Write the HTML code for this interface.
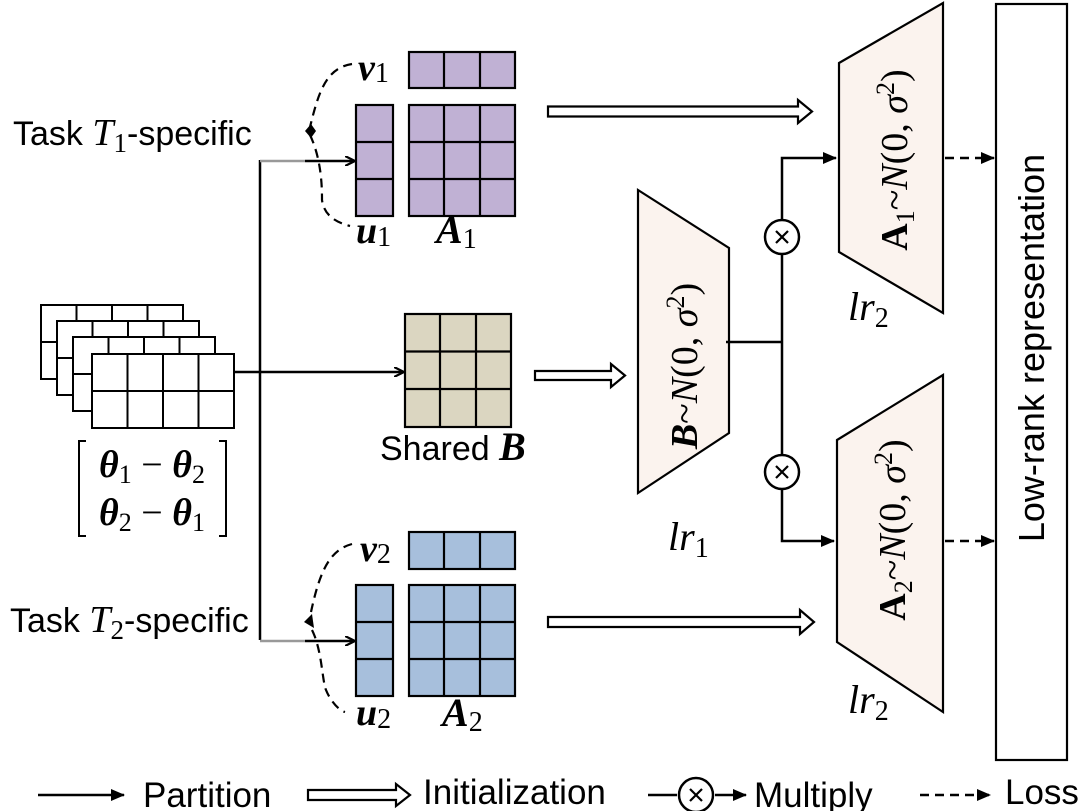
<!DOCTYPE html>
<html><head><meta charset="utf-8"><style>
html,body{margin:0;padding:0;background:#fff;}
svg{display:block;}
.s{font-family:"Liberation Sans",sans-serif;}
.m{font-family:"Liberation Serif","DejaVu Serif",serif;}
</style></head><body>
<svg width="1079" height="811" viewBox="0 0 1079 811" xmlns="http://www.w3.org/2000/svg">
<defs>
<marker id="ar" markerWidth="10" markerHeight="10" refX="9" refY="5" orient="auto" markerUnits="userSpaceOnUse"><path d="M0,0 L10,5 L0,10" fill="none" stroke="#000" stroke-width="2.2"/></marker>
<marker id="tri" markerWidth="14" markerHeight="12" refX="13" refY="6" orient="auto" markerUnits="userSpaceOnUse"><path d="M0,0 L14,6 L0,12 Z" fill="#000"/></marker>
</defs>
<g stroke="#000" stroke-width="2.5" fill="none">
<line x1="260" y1="160" x2="260" y2="640"/>
<line x1="260" y1="161" x2="305" y2="161" stroke="#999"/>
<line x1="305" y1="161" x2="354" y2="161" marker-end="url(#ar)"/>
<line x1="260" y1="641" x2="305" y2="641" stroke="#999"/>
<line x1="305" y1="641" x2="354" y2="641" marker-end="url(#ar)"/>
<line x1="234" y1="372" x2="403" y2="372" marker-end="url(#ar)"/>
</g>
<g stroke="#000" stroke-width="2" fill="#fff">
<g transform="translate(41,305)"><rect width="142" height="74"/><path d="M35.5,0V74M71,0V74M106.5,0V74M0,37H142"/></g>
<g transform="translate(57,321)"><rect width="142" height="74"/><path d="M35.5,0V74M71,0V74M106.5,0V74M0,37H142"/></g>
<g transform="translate(73,337)"><rect width="142" height="74"/><path d="M35.5,0V74M71,0V74M106.5,0V74M0,37H142"/></g>
<g transform="translate(92,354)"><rect width="142" height="74"/><path d="M35.5,0V74M71,0V74M106.5,0V74M0,37H142"/></g>
</g>
<path d="M86,441 H79 V536 H86 M219,441 H226 V536 H219" stroke="#000" stroke-width="2" fill="none"/>
<text x="152" y="477" class="m" font-size="38" text-anchor="middle"><tspan font-weight="bold" font-style="italic">θ</tspan><tspan font-size="26" dy="6">1</tspan><tspan dy="-6"> − </tspan><tspan font-weight="bold" font-style="italic">θ</tspan><tspan font-size="26" dy="6">2</tspan></text>
<text x="152" y="525" class="m" font-size="38" text-anchor="middle"><tspan font-weight="bold" font-style="italic">θ</tspan><tspan font-size="26" dy="6">2</tspan><tspan dy="-6"> − </tspan><tspan font-weight="bold" font-style="italic">θ</tspan><tspan font-size="26" dy="6">1</tspan></text>
<g stroke="#000" stroke-width="2.2" fill="#c0b1d4">
<rect x="409" y="52" width="106" height="36"/><path d="M444,52V88M480,52V88" fill="none"/>
<rect x="356" y="105" width="37" height="111"/><path d="M356,142H393M356,179H393" fill="none"/>
<rect x="409" y="105" width="106" height="111"/><path d="M444,105V216M480,105V216M409,142H515M409,179H515" fill="none"/>
</g>
<g stroke="#000" stroke-width="2.2" fill="#a7bfdc">
<rect x="409" y="532" width="106" height="37"/><path d="M444,532V569M480,532V569" fill="none"/>
<rect x="356" y="585" width="37" height="111"/><path d="M356,622H393M356,659H393" fill="none"/>
<rect x="409" y="585" width="106" height="111"/><path d="M444,585V696M480,585V696M409,622H515M409,659H515" fill="none"/>
</g>
<g stroke="#000" stroke-width="2.2" fill="#dbd6c1">
<rect x="405" y="314" width="106" height="113"/><path d="M440,314V427M476,314V427M405,351.5H511M405,389H511" fill="none"/>
</g>
<text x="380" y="460" class="s" font-size="34">Shared <tspan class="m" font-weight="bold" font-style="italic" font-size="40">B</tspan></text>
<g stroke="#000" stroke-width="2.2" fill="none" stroke-dasharray="9,6">
<path d="M352,64 C325,68 318,95 310,127"/>
<path d="M310,135 C322,160 322,190 322,200 C324,215 335,222 350,226"/>
<path d="M352,544 C330,550 320,570 311,612"/>
<path d="M312,630 C322,650 322,680 326,690 C330,700 338,710 345,712"/>
</g>
<path d="M305,131 L311,124 L316,131 L311,138 Z" fill="#000"/>
<path d="M304,622 L312,614 L314,628 Z" fill="#000"/>
<text x="358" y="80" class="m" font-size="38" font-weight="bold" font-style="italic">v<tspan font-size="28" font-weight="normal" font-style="normal" dy="2">1</tspan></text>
<text x="356" y="243" class="m" font-size="38" font-weight="bold" font-style="italic">u<tspan font-size="28" font-weight="normal" font-style="normal" dy="3">1</tspan></text>
<text x="436" y="243" class="m" font-size="40" font-weight="bold" font-style="italic">A<tspan font-size="28" font-weight="normal" font-style="normal" dy="5">1</tspan></text>
<text x="360" y="561" class="m" font-size="38" font-weight="bold" font-style="italic">v<tspan font-size="28" font-weight="normal" font-style="normal" dy="2">2</tspan></text>
<text x="356" y="725" class="m" font-size="38" font-weight="bold" font-style="italic">u<tspan font-size="28" font-weight="normal" font-style="normal" dy="3">2</tspan></text>
<text x="442" y="726" class="m" font-size="40" font-weight="bold" font-style="italic">A<tspan font-size="28" font-weight="normal" font-style="normal" dy="5">2</tspan></text>
<text x="13" y="145" class="s" font-size="34">Task <tspan class="m" font-style="italic" font-size="38">T</tspan><tspan class="m" font-size="27" dy="7">1</tspan><tspan dy="-7">-specific</tspan></text>
<text x="10" y="632" class="s" font-size="34">Task <tspan class="m" font-style="italic" font-size="38">T</tspan><tspan class="m" font-size="27" dy="7">2</tspan><tspan dy="-7">-specific</tspan></text>
<g stroke="#000" stroke-width="2.2" fill="#fff">
<path d="M548,106.5 H798 V100 L812,111.5 L798,123 V116.5 H548 Z"/>
<path d="M548,617 H800 V610 L814,622 L800,634 V627 H548 Z"/>
<path d="M535,371 H611 V364 L625,375.5 L611,387 V380 H535 Z"/>
<path d="M308,790 H396 V784 L410,795 L396,806 V800 H308 Z"/>
</g>
<g stroke="#000" stroke-width="2.2" fill="#fbf3ee">
<path d="M638,190 L729,248 L729,433 L638,493 Z"/>
<path d="M839,63 L943,3 L943,313 L839,252 Z"/>
<path d="M837,440 L943,375 L943,712 L837,642 Z"/>
</g>
<text transform="translate(697,366) rotate(-90)" class="m" font-size="38" text-anchor="middle"><tspan font-weight="bold" font-style="italic">B</tspan>~<tspan font-style="italic">N</tspan>(0, <tspan font-style="italic">σ</tspan><tspan font-size="26" dy="-13">2</tspan><tspan dy="13">)</tspan></text>
<text transform="translate(907,160) rotate(-90)" class="m" font-size="38" text-anchor="middle"><tspan font-weight="bold">A</tspan><tspan font-size="26" dy="7">1</tspan><tspan dy="-7">~</tspan><tspan font-style="italic">N</tspan>(0, <tspan font-style="italic">σ</tspan><tspan font-size="26" dy="-13">2</tspan><tspan dy="13">)</tspan></text>
<text transform="translate(905,530) rotate(-90)" class="m" font-size="38" text-anchor="middle"><tspan font-weight="bold">A</tspan><tspan font-size="26" dy="7">2</tspan><tspan dy="-7">~</tspan><tspan font-style="italic">N</tspan>(0, <tspan font-style="italic">σ</tspan><tspan font-size="26" dy="-13">2</tspan><tspan dy="13">)</tspan></text>
<text x="668" y="550" class="m" font-size="40" font-style="italic">lr<tspan font-size="28" font-style="normal" dy="7">1</tspan></text>
<text x="848" y="320" class="m" font-size="40" font-style="italic">lr<tspan font-size="28" font-style="normal" dy="7">2</tspan></text>
<text x="848" y="713" class="m" font-size="40" font-style="italic">lr<tspan font-size="28" font-style="normal" dy="7">2</tspan></text>
<g stroke="#000" stroke-width="2.5" fill="none">
<path d="M726,342 H782"/>
<path d="M782,342 V254 M782,220 V158 H836" marker-end="url(#tri)"/>
<path d="M782,342 V455 M782,489 V541 H834" marker-end="url(#tri)"/>
<circle cx="782" cy="237" r="17"/>
<circle cx="782" cy="472" r="17"/>
<path d="M776,231 L788,243 M788,231 L776,243 M776,466 L788,478 M788,466 L776,478" stroke-width="2.2"/>
</g>
<g stroke="#000" stroke-width="2.5" fill="none" stroke-dasharray="9,6">
<line x1="945" y1="158" x2="994" y2="158" marker-end="url(#tri)"/>
<line x1="945" y1="541" x2="994" y2="541" marker-end="url(#tri)"/>
</g>
<rect x="996" y="4" width="71" height="756" fill="#fff" stroke="#000" stroke-width="2.2"/>
<text transform="translate(1044,348) rotate(-90)" class="s" font-size="36" text-anchor="middle">Low-rank representation</text>
<g stroke="#000" stroke-width="2.5" fill="none">
<line x1="38" y1="795" x2="124" y2="795" marker-end="url(#tri)"/>
<line x1="648" y1="795" x2="677" y2="795"/>
<circle cx="696" cy="795" r="17"/>
<path d="M690,789 L702,801 M702,789 L690,801" stroke-width="2.2"/>
<line x1="715" y1="795" x2="746" y2="795" marker-end="url(#tri)"/>
<line x1="920" y1="795" x2="990" y2="795" stroke-dasharray="9,6" marker-end="url(#tri)"/>
</g>
<text x="143" y="807" class="s" font-size="35">Partition</text>
<text x="423" y="804" class="s" font-size="35">Initialization</text>
<text x="754" y="807" class="s" font-size="35">Multiply</text>
<text x="1005" y="804" class="s" font-size="35">Loss</text>
</svg>
</body></html>
